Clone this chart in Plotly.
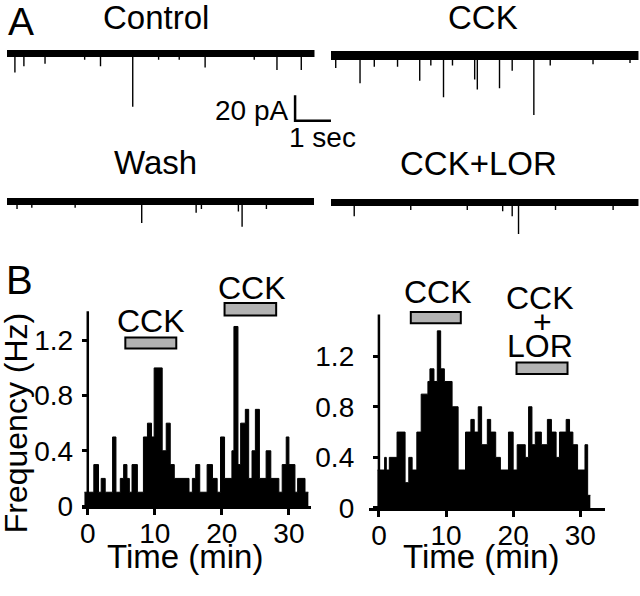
import plotly.graph_objects as go

W, H = 640, 596
FONT = "Liberation Sans, Arial, sans-serif"


def fx(px):
    return px / W


def fy(py):
    return 1 - py / H


# ---------------- Panel A : example current traces ----------------
trace_titles = ["Control", "CCK", "Wash", "CCK+LOR"]
trace_duration_s = 5.82

control_event_t = [0.15, 0.32, 0.72, 1.47, 1.77, 2.38, 2.87, 3.26, 3.75, 4.68, 5.11, 5.57]
control_event_pa = [-15, -10, -8, -5, -10, -42, -5, -5, -11, -5, -13, -13]

cck_event_t = [0.09, 0.55, 0.82, 1.26, 1.68, 1.89, 2.13, 2.30, 2.72, 2.77, 3.19, 3.43, 3.84, 4.15, 4.96, 5.66]
cck_event_pa = [-10, -22, -9, -9, -20, -8, -33, -8, -19, -27, -26, -12, -47, -8, -7, -6]

wash_event_t = [0.19, 0.47, 1.29, 2.55, 3.58, 3.68, 4.38, 4.45, 4.91]
wash_event_pa = [-6, -5, -5, -17, -9, -6, -8, -20, -6]

lor_event_t = [0.44, 1.51, 2.58, 3.25, 3.43, 3.55, 4.25, 5.34]
lor_event_pa = [-11, -6, -6, -7, -11, -25, -6, -6]

scale_bar_s = 1
scale_bar_pa = 20

# ---------------- Panel B : event frequency histograms ----------------
left_bin_start = [-0.5, 0.9, 1.6, 2.0, 2.6, 3.7, 4.2, 4.85, 5.35, 5.84, 6.2, 6.6, 7.4, 8.3, 8.9, 9.5,
                  9.9, 11.1, 11.7, 12.3, 12.9, 15.1, 15.6, 16.1, 16.7, 17.8, 18.6, 19.3, 19.8, 20.4,
                  21.5, 21.8, 22.4, 22.8, 23.5, 24.0, 24.5, 25.0, 25.6, 26.6, 27.3, 28.5, 29.0, 29.6,
                  30.0, 30.9, 31.3, 32.4]
left_bin_end = 32.9
left_rate_hz = [0.1, 0.3, 0.1, 0.2, 0.1, 0.5, 0.1, 0.2, 0.3, 0.2, 0.1, 0.3, 0.1, 0.5, 0.6, 0.5,
                1.0, 0.4, 0.6, 0.3, 0.2, 0.1, 0.2, 0.3, 0.1, 0.3, 0.2, 0.1, 0.5, 0.2,
                0.4, 1.3, 0.3, 0.6, 0.7, 0.2, 0.4, 0.7, 0.2, 0.4, 0.2, 0.1, 0.3, 0.5,
                0.3, 0.1, 0.2, 0.1]

right_bin_start = [-0.2, 0.85, 1.1, 1.55, 2.7, 3.9, 4.45, 4.95, 5.65, 6.3, 7.3, 7.6, 8.2, 8.7, 9.2,
                   9.75, 10.9, 11.8, 12.9, 13.7, 14.2, 14.8, 15.3, 16.15, 16.65, 17.4, 18.1, 19.3,
                   20.0, 20.6, 21.8, 22.3, 22.8, 23.3, 24.2, 25.1, 25.7, 26.4, 26.9, 27.9, 28.4,
                   28.9, 29.6, 30.7, 31.1]
right_bin_end = 31.5
right_rate_hz = [0.3, 0.4, 0.3, 0.4, 0.6, 0.2, 0.4, 0.3, 0.6, 0.9, 1.0, 1.1, 1.0, 1.4, 1.1,
                 1.0, 0.8, 0.3, 0.6, 0.7, 0.6, 0.8, 0.5, 0.7, 0.6, 0.4, 0.3, 0.6,
                 0.3, 0.5, 0.4, 0.8, 0.5, 0.6, 0.5, 0.7, 0.6, 0.4, 0.6, 0.7, 0.6,
                 0.5, 0.3, 0.5, 0.1]

left_drug_periods = [[5.6, 13.2], [20.4, 28.1]]
right_drug_periods = [[4.75, 12.2], [20.5, 28.1]]

freq_ticks = [0, 0.4, 0.8, 1.2]
freq_ticktext = ["0", "0.4", "0.8", "1.2"]
time_ticks = [0, 10, 20, 30]

# ---------------- build figure ----------------
fig = go.Figure()
layout = {}

PX_PER_S = 53.0
PX_PER_PA = 1.3

trace_specs = [
    dict(t=control_event_t, a=control_event_pa, x0=5, x1=350, base=55, top=36, bot=135, lw=7),
    dict(t=cck_event_t, a=cck_event_pa, x0=330, x1=640, base=57, top=36, bot=135, lw=9),
    dict(t=wash_event_t, a=wash_event_pa, x0=5, x1=313, base=207, top=186, bot=250, lw=7),
    dict(t=lor_event_t, a=lor_event_pa, x0=330, x1=640, base=208, top=186, bot=250, lw=7),
]

for i, s in enumerate(trace_specs):
    n = i + 3
    xa, ya = f"x{n}", f"y{n}"
    fig.add_trace(go.Scatter(x=[0, trace_duration_s], y=[0, 0], mode="lines",
                             line=dict(color="black", width=s["lw"]),
                             xaxis=xa, yaxis=ya, hoverinfo="skip"))
    xs, ys = [], []
    for t, a in zip(s["t"], s["a"]):
        xs += [t, t, None]
        ys += [0, a, None]
    fig.add_trace(go.Scatter(x=xs, y=ys, mode="lines",
                             line=dict(color="black", width=1.4),
                             xaxis=xa, yaxis=ya, hoverinfo="skip"))
    layout[f"xaxis{n}"] = dict(domain=[fx(s["x0"]), fx(s["x1"])],
                               range=[0, (s["x1"] - s["x0"]) / PX_PER_S],
                               visible=False, anchor=ya)
    layout[f"yaxis{n}"] = dict(domain=[fy(s["bot"]), fy(s["top"])],
                               range=[-(s["bot"] - s["base"]) / PX_PER_PA,
                                      (s["base"] - s["top"]) / PX_PER_PA],
                               visible=False, anchor=xa)

# scale bar (in Control axes units)
sb_x0 = (294 - 5) / PX_PER_S
sb_y0 = -(124 - 55) / PX_PER_PA
fig.add_trace(go.Scatter(x=[sb_x0, sb_x0, sb_x0 + scale_bar_s],
                         y=[sb_y0 + scale_bar_pa, sb_y0, sb_y0],
                         mode="lines", line=dict(color="black", width=2.5),
                         xaxis="x3", yaxis="y3", hoverinfo="skip"))

# histograms
for starts, end, rates, xa, ya in [
    (left_bin_start, left_bin_end, left_rate_hz, "x", "y"),
    (right_bin_start, right_bin_end, right_rate_hz, "x2", "y2"),
]:
    fig.add_trace(go.Scatter(x=starts + [end], y=rates + [rates[-1]],
                             mode="lines", line=dict(color="black", width=1, shape="hv"),
                             fill="tozeroy", fillcolor="black",
                             xaxis=xa, yaxis=ya, hoverinfo="skip"))

tickfont = dict(family=FONT, size=28, color="black")
common_x = dict(showline=True, linewidth=2.5, linecolor="black", ticks="outside",
                ticklen=6, tickwidth=2.5, tickcolor="black", showgrid=False,
                zeroline=False, tickvals=time_ticks, tickfont=tickfont,
                ticklabelstandoff=-5)
common_y = dict(showline=False, ticks="outside", ticklen=6, tickwidth=2.5,
                tickcolor="black", showgrid=False, zeroline=False,
                tickvals=freq_ticks, ticktext=freq_ticktext, tickfont=tickfont)

layout["xaxis"] = dict(common_x, domain=[fx(80), fx(310)], range=[-0.9, 33.3], anchor="y")
layout["yaxis"] = dict(common_y, domain=[fy(520), fy(300)], range=[0, 1.55],
                       anchor="free", position=fx(86), ticklabelstandoff=3)
layout["xaxis2"] = dict(common_x, domain=[fx(368), fx(605)], range=[-1.5, 33.7], anchor="y2")
layout["yaxis2"] = dict(common_y, domain=[fy(522), fy(314)], range=[0, 1.6],
                        anchor="free", position=fx(378), ticklabelstandoff=13)

shapes = []
# y axis lines at t = 0 (shorter than plotting range)
shapes.append(dict(type="line", xref="x", yref="y", x0=0, x1=0, y0=0, y1=1.41,
                   line=dict(color="black", width=2.5)))
shapes.append(dict(type="line", xref="x2", yref="y2", x0=0, x1=0, y0=0, y1=1.53,
                   line=dict(color="black", width=2.5)))
# drug application bars
bar_y = [(1.14, 1.22), (1.38, 1.47)]
for (t0, t1), (y0, y1) in zip(left_drug_periods, bar_y):
    shapes.append(dict(type="rect", xref="x", yref="y", x0=t0, x1=t1, y0=y0, y1=y1,
                       fillcolor="#b3b3b3", line=dict(color="black", width=2)))
bar_y2 = [(1.46, 1.55), (1.06, 1.15)]
for (t0, t1), (y0, y1) in zip(right_drug_periods, bar_y2):
    shapes.append(dict(type="rect", xref="x2", yref="y2", x0=t0, x1=t1, y0=y0, y1=y1,
                       fillcolor="#b3b3b3", line=dict(color="black", width=2)))

annotations = []


def label(text, px, py, size=33, angle=0, xanchor="center"):
    annotations.append(dict(text=text, x=fx(px), y=fy(py), xref="paper", yref="paper",
                            xanchor=xanchor, yanchor="middle", showarrow=False,
                            textangle=angle,
                            font=dict(family=FONT, size=size, color="black")))


label("A", 19, 22, size=39)
label("B", 18, 288, size=40)
label(trace_titles[0], 154, 18)
label(trace_titles[1], 483, 18)
label(trace_titles[2], 154, 167)
label(trace_titles[3], 478, 168)
label("20 pA", 289, 114, size=28, xanchor="right")
label("1 sec", 322, 141, size=28)
label("CCK", 149, 330, size=32)
label("CCK", 251, 296, size=32)
label("CCK", 437, 300, size=32)
label("CCK", 540, 306, size=32)
label("+", 542, 331, size=32)
label("LOR", 540, 356, size=32)
label("Time (min)", 184, 572, size=33)
label("Time (min)", 480, 572, size=33)
label("Frequency (Hz)", 14, 434, size=32, angle=-90)

fig.update_layout(
    width=W, height=H, margin=dict(l=0, r=0, t=0, b=0),
    paper_bgcolor="white", plot_bgcolor="white", showlegend=False,
    shapes=shapes, annotations=annotations, **layout,
)

fig.write_html("out.html", config={"displayModeBar": False},
               post_script="document.body.style.margin='0';document.body.style.overflow='hidden';")
